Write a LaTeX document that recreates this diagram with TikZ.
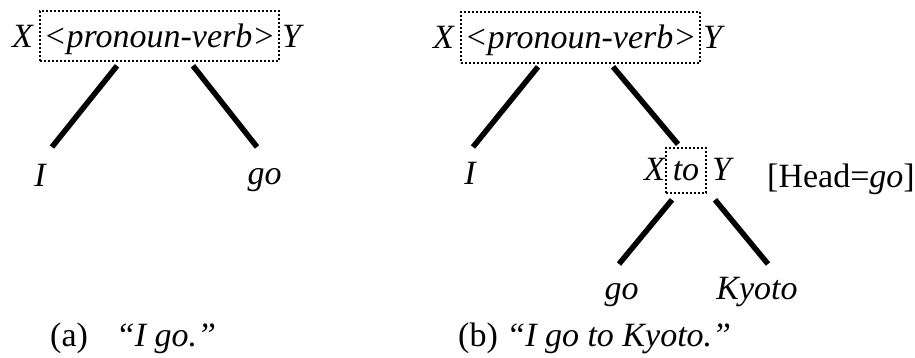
\documentclass[tikz,border=0pt]{standalone}
\usepackage{fontspec}
\setmainfont{Liberation Serif}
\usepackage{tikz}
\usetikzlibrary{positioning,calc}

\begin{document}
\begin{tikzpicture}[
  x=1pt, y=1pt,
  font=\fontsize{34}{40}\selectfont,
  word/.style={inner sep=0pt, font=\fontsize{34}{40}\selectfont\itshape},
  dotbox/.style={word, draw, line width=1.6pt, dash pattern=on 1.6pt off 2.4pt,
    inner xsep=0pt, inner ysep=0pt},
  branch/.style={line width=5.5pt}
]
\useasboundingbox (0,0) rectangle (915,-358);

\node[dotbox, minimum width=239pt, text height=37pt, text depth=13pt, anchor=base]
  (pva) at (159.5,-48) {<pronoun-verb>};
\node[word, anchor=base east] (xa) at ([xshift=-6pt]pva.base west) {X};
\node[word, anchor=base west] (ya) at ([xshift=2pt]pva.base east) {Y};
\node[word, anchor=base] (ia) at (40,-187) {I};
\node[word, anchor=base] (goa) at (264.5,-185) {go};
\draw[branch] ([shift={(-42.5,-4)}]pva.south) -- ([shift={(12,40)}]ia.base);
\draw[branch] ([shift={(33.5,-4)}]pva.south) -- ([shift={(-7.5,38)}]goa.base);

\node[dotbox, minimum width=239pt, text height=37pt, text depth=14pt, anchor=base]
  (pvb) at (580.5,-49) {<pronoun-verb>};
\node[word, anchor=base east] (xb) at ([xshift=-6pt]pvb.base west) {X};
\node[word, anchor=base west] (yb) at ([xshift=2pt]pvb.base east) {Y};
\node[word, anchor=base] (ib) at (470,-185) {I};
\node[dotbox, minimum width=40pt, text height=33pt, text depth=12pt, anchor=base]
  (tob) at (686,-181) {to};
\node[word, anchor=base east] (xc) at ([xshift=0pt]tob.base west) {X};
\node[word, anchor=base west] (yc) at ([xshift=5pt]tob.base east) {Y};
\node[inner sep=0pt, anchor=base west] (head) at (767,-188) {[Head=\textit{go}]};
\node[word, anchor=base] (gob) at (621.5,-299) {go};
\node[word, anchor=base] (kyoto) at (757,-299) {Kyoto};
\draw[branch] ([shift={(-42.5,-3)}]pvb.south) -- ([shift={(3,38)}]ib.base);
\draw[branch] ([shift={(32.5,-3)}]pvb.south) -- ([shift={(-8,3)}]tob.north);
\draw[branch] ([shift={(-14,-6)}]tob.south) -- ([shift={(-2.5,35)}]gob.base);
\draw[branch] ([shift={(29,-6)}]tob.south) -- ([shift={(11,35)}]kyoto.base);

\node[inner sep=0pt, anchor=base west] (capa) at (50,-346)
  {(a)\hspace{28pt}\textit{“I go.”}};
\node[inner sep=0pt, anchor=base west] (capb) at (458,-346)
  {(b) \textit{“I go to Kyoto.”}};
\end{tikzpicture}
\end{document}
